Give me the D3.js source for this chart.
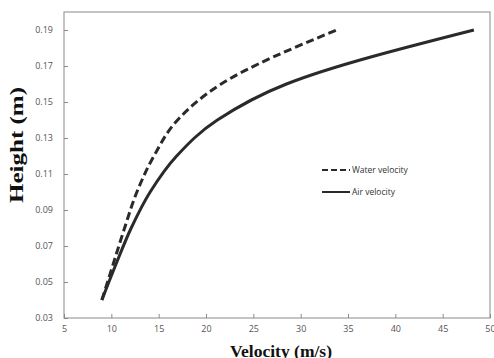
<!DOCTYPE html>
<html><head><meta charset="utf-8">
<script src="https://cdn.jsdelivr.net/npm/d3@7"></script>
<style>body{margin:0;background:#fff}svg{display:block}</style>
</head><body>
<svg id="c" width="494" height="358"></svg>
<script>
const heights = [0.04, 0.06, 0.08, 0.10, 0.12, 0.14, 0.16, 0.19];
const waterVelocity = [9.0, 10.2, 11.4, 12.7, 14.5, 17.0, 21.6, 33.8];
const airVelocity   = [9.0, 10.5, 12.1, 14.1, 16.9, 21.2, 28.5, 48.3];
const xTicks = [5, 10, 15, 20, 25, 30, 35, 40, 45, 50];
const yTicks = [0.03, 0.05, 0.07, 0.09, 0.11, 0.13, 0.15, 0.17, 0.19];
const seriesNames = ["Water velocity", "Air velocity"];

const svg = d3.select("#c");
const L = 64, R = 490, T = 12, B = 318;
const x = d3.scaleLinear().domain([5, 50]).range([L, R]);
const y = d3.scaleLinear().domain([0.03, 0.20]).range([B, T]);
const sans = "'Open Sans', 'Liberation Sans', Arial, sans-serif";
const serif = "'Liberation Serif', 'Times New Roman', serif";

// frame
svg.append("rect").attr("x", L).attr("y", T).attr("width", R - L).attr("height", B - T)
  .attr("fill", "none").attr("stroke", "#8a8a8a").attr("stroke-width", 1);

// x axis
const xa = svg.append("g").attr("transform", `translate(0,${B})`)
  .call(d3.axisBottom(x).tickValues(xTicks).tickSize(-4).tickPadding(8).tickFormat(d3.format("d")));
xa.select(".domain").remove();
xa.selectAll("line").attr("stroke", "#8a8a8a");
xa.selectAll("text").attr("fill", "#555").attr("font-family", sans).attr("font-size", 9);

// y axis
const ya = svg.append("g").attr("transform", `translate(${L},0)`)
  .call(d3.axisLeft(y).tickValues(yTicks).tickSize(-4).tickPadding(11).tickFormat(d3.format(".2f")));
ya.select(".domain").remove();
ya.selectAll("line").attr("stroke", "#8a8a8a");
ya.selectAll("text").attr("fill", "#555").attr("font-family", sans).attr("font-size", 9);

// lines
const lineGen = d3.line().curve(d3.curveMonotoneY);
const water = heights.map((h, i) => [x(waterVelocity[i]), y(h)]);
const air = heights.map((h, i) => [x(airVelocity[i]), y(h)]);
svg.append("path").attr("d", lineGen(water)).attr("fill", "none")
  .attr("stroke", "#2a2a2a").attr("stroke-width", 3).attr("stroke-dasharray", "8,4");
svg.append("path").attr("d", lineGen(air)).attr("fill", "none")
  .attr("stroke", "#2a2a2a").attr("stroke-width", 3);

// legend
const leg = svg.append("g").attr("font-family", sans).attr("font-size", 8.5).attr("fill", "#333");
[[170, "6,3", 2.2], [192, null, 2]].forEach((d, i) => {
  leg.append("line").attr("x1", 322).attr("x2", 350).attr("y1", d[0]).attr("y2", d[0])
    .attr("stroke", "#2a2a2a").attr("stroke-width", d[2]).attr("stroke-dasharray", d[1]);
  leg.append("text").attr("x", 352).attr("y", d[0] + 3).text(seriesNames[i]);
});

// titles
svg.append("text").attr("transform", "translate(23,145) rotate(-90)").attr("text-anchor", "middle")
  .attr("font-family", serif).attr("font-weight", "bold")
  .attr("font-size", 18).attr("fill", "#111")
  .attr("textLength", 116).attr("lengthAdjust", "spacingAndGlyphs").text("Height (m)");
svg.append("text").attr("x", 281).attr("y", 357).attr("text-anchor", "middle")
  .attr("font-family", serif).attr("font-weight", "bold")
  .attr("font-size", 17).attr("fill", "#111")
  .attr("textLength", 102).attr("lengthAdjust", "spacingAndGlyphs").text("Velocity (m/s)");
</script>
</body></html>
